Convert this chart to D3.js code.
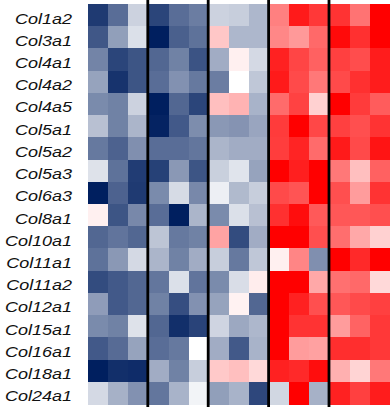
<!DOCTYPE html>
<html>
<head>
<meta charset="utf-8">
<script src="https://cdn.jsdelivr.net/npm/d3@7"></script>
<style>
  html, body { margin: 0; padding: 0; background: #fff; }
  svg { display: block; }
</style>
</head>
<body>
<svg id="chart" width="390" height="407"></svg>
<script>
const genes = ["Col1a2","Col3a1","Col4a1","Col4a2","Col4a5","Col5a1","Col5a2","Col5a3","Col6a3",
               "Col8a1","Col10a1","Col11a1","Col11a2","Col12a1","Col15a1","Col16a1","Col18a1","Col24a1"];
const groups = ["G1","G2","G3","G4","G5"];
const samplesPerGroup = 3;

// z-scored expression values (row-wise), -1 = navy, 0 = white, 1 = red
const zCol1a2  = [-0.88,-0.65,-0.20,-0.83,-0.65,-0.58,-0.20,-0.22,-0.32, 0.50, 0.90, 0.78, 0.80, 0.55, 1.00];
const zCol3a1  = [-0.75,-0.43,-0.14,-1.00,-0.71,-0.63, 0.22,-0.32,-0.32, 0.47, 0.40, 0.59, 0.96, 0.81, 1.00];
const zCol4a1  = [-0.55,-0.83,-0.76,-0.68,-0.56,-0.77,-0.37, 0.06,-0.17, 0.87, 0.73, 0.62, 0.75, 0.70, 0.89];
const zCol4a2  = [-0.41,-0.91,-0.76,-0.65,-0.49,-0.60,-0.58, 0.00,-0.25, 0.90, 0.71, 0.53, 0.71, 0.81, 0.89];
const zCol4a5  = [-0.52,-0.56,-0.20,-1.00,-0.68,-0.83, 0.25, 0.30,-0.34, 0.58, 0.74, 0.18, 1.00, 0.77, 0.64];
const zCol5a1  = [-0.28,-0.56,-0.33,-0.98,-0.74,-0.51,-0.46,-0.48,-0.40, 0.77, 1.00, 0.72, 0.75, 0.69, 0.80];
const zCol5a2  = [-0.60,-0.70,-0.50,-0.65,-0.65,-0.61,-0.33,-0.37,-0.37, 0.76, 0.86, 0.58, 0.90, 0.71, 0.92];
const zCol5a3  = [-0.13,-0.63,-0.87,-0.85,-0.46,-0.76,-0.21,-0.12,-0.41, 1.00, 0.88, 1.00, 0.53, 0.25, 0.62];
const zCol6a3  = [-1.00,-0.70,-0.88,-0.52,-0.16,-0.53,-0.07,-0.31,-0.22, 0.71, 0.67, 1.00, 0.69, 0.39, 0.80];
const zCol8a1  = [ 0.06,-0.76,-0.53,-0.65,-1.00,-0.33,-0.52,-0.14,-0.28, 0.81, 0.95, 0.65, 0.66, 0.66, 0.69];
const zCol10a1 = [-0.68,-0.62,-0.68,-0.26,-0.60,-0.56, 0.36,-0.80,-0.37, 1.00, 1.00, 0.69, 0.57, 0.34, 0.18];
const zCol11a1 = [-0.63,-0.46,-0.17,-0.33,-0.56,-0.37,-0.22,-0.60,-0.25, 0.06, 0.48,-0.50, 1.00, 0.84, 1.00];
const zCol11a2 = [-0.80,-0.74,-0.68,-0.61,-0.14,-0.62,-0.52,-0.15, 0.07, 1.00, 1.00, 0.34, 0.56, 0.59, 0.15];
const zCol12a1 = [-0.44,-0.74,-0.68,-0.56,-0.79,-0.49,-0.41, 0.05,-0.68, 1.00, 0.87, 0.69, 0.66, 0.71, 0.75];
const zCol15a1 = [-0.52,-0.56,-0.13,-0.68,-0.93,-0.84,-0.19,-0.39,-0.32, 1.00, 0.80, 0.80, 0.39, 0.61, 0.78];
const zCol16a1 = [-0.74,-0.66,-0.41,-0.65,-0.60, 0.00,-0.37,-0.74,-0.34, 1.00, 0.39, 0.37, 0.82, 0.82, 0.78];
const zCol18a1 = [-1.00,-0.93,-0.94,-0.37,-0.56,-0.22, 0.21, 0.25, 0.15, 0.87, 0.84, 0.95, 0.31, 0.17, 0.53];
const zCol24a1 = [-0.17,-0.35,-0.49,-0.61,-0.34,-0.05,-0.43,-0.34,-0.82,-0.18, 1.00,-0.35, 0.87, 0.75, 0.89];

const values = [zCol1a2, zCol3a1, zCol4a1, zCol4a2, zCol4a5, zCol5a1, zCol5a2, zCol5a3, zCol6a3,
                zCol8a1, zCol10a1, zCol11a1, zCol11a2, zCol12a1, zCol15a1, zCol16a1, zCol18a1, zCol24a1];

const samples = [];
groups.forEach(g => { for (let k = 1; k <= samplesPerGroup; k++) samples.push(g + "_" + k); });

const cells = [];
genes.forEach((g, i) => values[i].forEach((v, j) => cells.push({ gene: g, sample: samples[j], v })));

const W = 390, H = 407;
const margin = { left: 88, right: 0, top: 4, bottom: 3 };

const svg = d3.select("#chart");

const x = d3.scaleBand().domain(samples).range([margin.left, W - margin.right]).padding(0);
const y = d3.scaleBand().domain(genes).range([margin.top, H - margin.bottom]).padding(0);
const color = d3.scaleLinear().domain([-1, 0, 1]).range(["#001f5f", "#ffffff", "#ff0000"]).clamp(true);

svg.append("g")
  .selectAll("rect")
  .data(cells)
  .join("rect")
  .attr("x", d => x(d.sample))
  .attr("y", d => y(d.gene))
  .attr("width", x.bandwidth() + 0.5)
  .attr("height", y.bandwidth() + 0.5)
  .attr("fill", d => color(d.v))
  .attr("shape-rendering", "crispEdges");

// group separators
const boundaries = groups.slice(1).map((g, i) => x(samples[(i + 1) * samplesPerGroup]));
svg.append("g")
  .selectAll("line")
  .data(boundaries)
  .join("line")
  .attr("x1", d => d - 0.6).attr("x2", d => d - 0.6)
  .attr("y1", 0).attr("y2", H)
  .attr("stroke", "#000")
  .attr("stroke-width", 2.8);

// row labels
const lab = svg.append("g")
  .selectAll("g")
  .data(genes)
  .join("g")
  .attr("transform", d => `translate(72, ${y(d) + y.bandwidth() / 2}) scale(1.2, 1)`);
lab.append("text")
  .attr("text-anchor", "end")
  .attr("dy", "0.56em")
  .attr("font-family", "'Liberation Sans', Arial, sans-serif")
  .attr("font-style", "italic")
  .attr("font-size", 15)
  .attr("fill", "#111")
  .text(d => d);
</script>
</body>
</html>
